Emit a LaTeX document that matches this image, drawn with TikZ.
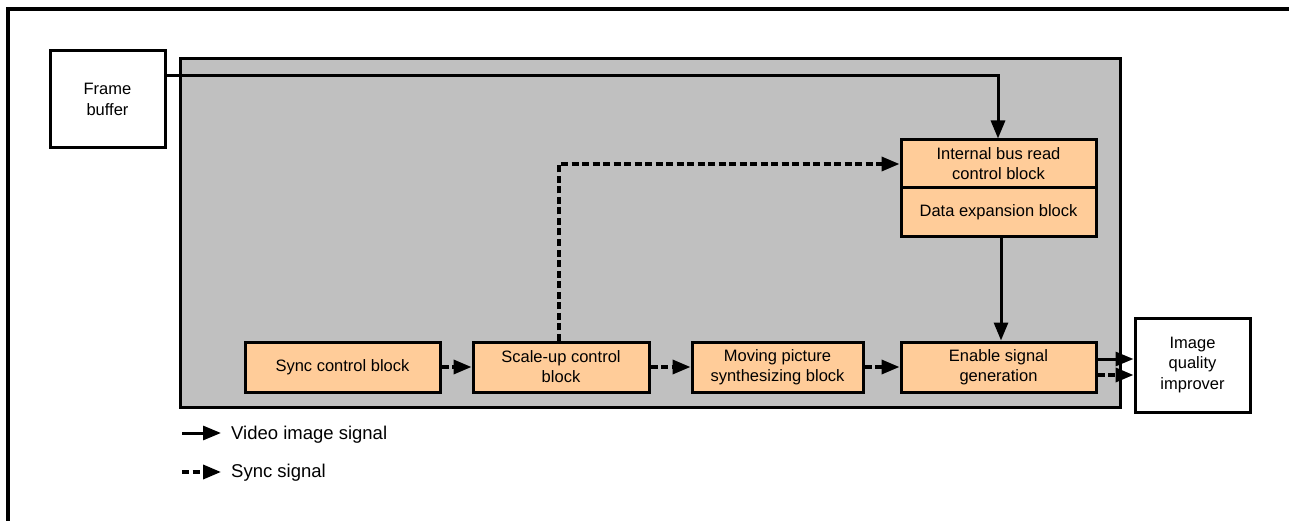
\documentclass[tikz,border=0pt]{standalone}
\usepackage{fontspec}
\setmainfont{Liberation Sans}
\usetikzlibrary{arrows.meta,calc}
\definecolor{graybg}{HTML}{C0C0C0}
\definecolor{peach}{HTML}{FFCC99}
\tikzset{
  x=1pt,y=-1pt,
  blk/.style={draw,line width=3pt,fill=peach,align=center,inner sep=0pt,outer sep=0pt,
    font=\fontsize{16.5}{20}\selectfont},
  wbox/.style={draw,line width=3pt,fill=white,align=center,inner sep=0pt,outer sep=0pt,
    font=\fontsize{16.5}{20.5}\selectfont},
  vid/.style={line width=3pt,-{Triangle[length=18pt,width=14pt]}},
  syn/.style={line width=3.5pt,dash pattern=on 7pt off 3.5pt,-{Triangle[length=18pt,width=14pt]}},
  leg/.style={font=\fontsize{18.5}{22}\selectfont,anchor=west,inner sep=0pt}
}
\begin{document}
\begin{tikzpicture}
\useasboundingbox (0,0) rectangle (1289,521);
% outer frame (top and left)
\draw[line width=3.5pt] (8,521) -- (8,9) -- (1289,9);
% gray area
\draw[line width=3pt,fill=graybg] (180,59) rectangle (1120,407);
% white boxes
\node[wbox,minimum width=115pt,minimum height=97pt] (fb) at (107.5,99.5) {Frame\\buffer};
\node[wbox,minimum width=115pt,minimum height=94pt] (iq) at (1192.5,365) {Image\\quality\\improver};
% orange blocks
\node[blk,minimum width=195pt,minimum height=48pt] (ib) at (998.5,164) {Internal bus read\\control block};
\node[blk,minimum width=195pt,minimum height=49pt,anchor=north] (de) at (ib.south) {Data expansion block};
\node[blk,minimum width=195pt,minimum height=50pt] (sc) at (342.5,367) {Sync control block};
\node[blk,minimum width=176pt,minimum height=50pt] (su) at (561,367) {Scale-up control\\block};
\node[blk,minimum width=171pt,minimum height=50pt] (mp) at (777.5,367) {Moving picture\\synthesizing block};
\node[blk,minimum width=195pt,minimum height=50pt] (en) at (998.5,367) {Enable signal\\generation};
% video signal
\coordinate (vc) at (998,76);
\draw[vid] (fb.east |- vc) -- (vc) -- ([yshift=1.5pt]ib.north -| vc);
\coordinate (dx) at (1001,300);
\draw[vid] ([yshift=-1.5pt]de.south -| dx) -- ([yshift=1.5pt]en.north -| dx);
\coordinate (ey1) at (1100,359);
\coordinate (ey2) at (1100,375);
\draw[vid] ([xshift=1.5pt]en.east |- ey1) -- ([xshift=-1.5pt]iq.west |- ey1);
% sync signal
\draw[syn] ([xshift=1.5pt]sc.east) -- ([xshift=-1.5pt]su.west);
\draw[syn] ([xshift=1.5pt]su.east) -- ([xshift=-1.5pt]mp.west);
\draw[syn] ([xshift=1.5pt]mp.east) -- ([xshift=-1.5pt]en.west);
\coordinate (sv) at (559,164);
\draw[syn] ([yshift=1.5pt]su.north -| sv) -- (sv) -- ([xshift=-1.5pt]ib.west);
\draw[syn] ([xshift=1.5pt]en.east |- ey2) -- ([xshift=-1.5pt]iq.west |- ey2);
% legend
\coordinate (l1a) at (182,433);
\coordinate (l1b) at (221,433);
\coordinate (l2a) at (182,472);
\coordinate (l2b) at (221,472);
\draw[vid] (l1a) -- (l1b);
\draw[syn] (l2a) -- (l2b);
\node[leg] (t1) at (231,435) {Video image signal};
\node[leg] (t2) at (231,473) {Sync signal};
\end{tikzpicture}
\end{document}
